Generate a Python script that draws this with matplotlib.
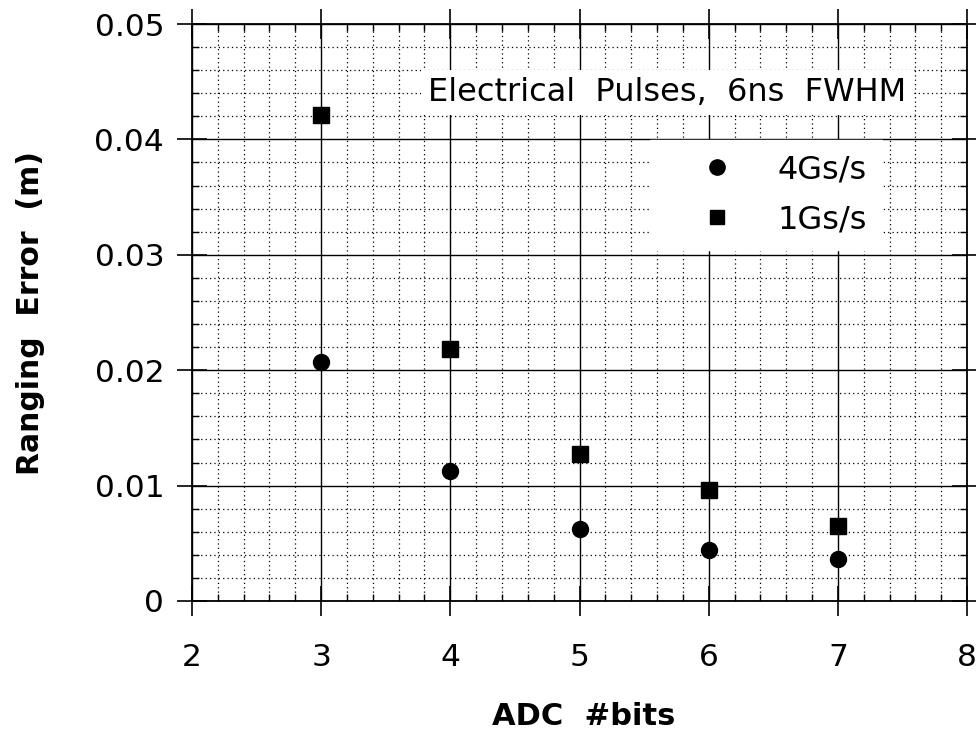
import numpy as np
import matplotlib
matplotlib.use('Agg')
import matplotlib.pyplot as plt
from matplotlib.ticker import MultipleLocator, FuncFormatter
from matplotlib.lines import Line2D

# ADC resolution (bits) and ranging error (m)
bits = [3, 4, 5, 6, 7]
err_4gs = [0.0207, 0.0113, 0.0062, 0.0044, 0.0036]
err_1gs = [0.0421, 0.0218, 0.0127, 0.0096, 0.0065]
labels = ['4Gs/s', '1Gs/s']

plt.rcParams['font.family'] = 'DejaVu Sans'

fig = plt.figure(figsize=(9.76, 7.34), dpi=100)
ax = fig.add_axes([0.1967, 0.1812, 0.7941, 0.7861])

ax.plot(bits, err_4gs, 'o', color='black', markersize=11.5, zorder=5)
ax.plot(bits, err_1gs, 's', color='black', markersize=11.5, zorder=5)

ax.set_xlim(2, 8)
ax.set_ylim(0, 0.05)
ax.xaxis.set_major_locator(MultipleLocator(1))
ax.xaxis.set_minor_locator(MultipleLocator(0.2))
ax.yaxis.set_major_locator(MultipleLocator(0.01))
ax.yaxis.set_minor_locator(MultipleLocator(0.002))
ax.yaxis.set_major_formatter(FuncFormatter(lambda v, p: '0' if abs(v) < 1e-9 else '%.2f' % v))

ax.grid(which='major', color='black', linestyle='-', linewidth=1.0)
ax.grid(which='minor', color='black', linestyle=(0, (1, 2.5)), linewidth=0.9)
ax.set_axisbelow(True)

ax.tick_params(which='major', direction='inout', length=22, width=1.2,
               top=True, right=True, labelsize=22.5, color='black')
ax.tick_params(axis='x', which='major', pad=19)
ax.tick_params(axis='y', which='major', pad=9)
ax.tick_params(which='minor', direction='in', length=5, width=1.0,
               top=True, right=True)
for s in ax.spines.values():
    s.set_linewidth(1.3)

ax.set_xlabel('ADC  #bits', fontsize=22, fontweight='bold')
ax.set_ylabel('Ranging  Error  (m)', fontsize=21.5, fontweight='bold')
ax.xaxis.set_label_coords(0.506, -0.175)
ax.yaxis.set_label_coords(-0.19, 0.5)

ax.text(5.68, 0.0441, 'Electrical  Pulses,  6ns  FWHM', fontsize=23,
        ha='center', va='center', zorder=6,
        bbox=dict(facecolor='white', edgecolor='none', pad=5))

handles = [Line2D([], [], marker='o', linestyle='none', color='black', markersize=11),
           Line2D([], [], marker='s', linestyle='none', color='black', markersize=10)]
leg = ax.legend(handles, labels, loc='upper left', bbox_to_anchor=(0.591, 0.799),
                borderaxespad=0, frameon=True, fancybox=False, fontsize=23,
                handlelength=3.3, handletextpad=0.25, borderpad=0.45,
                labelspacing=0.6)
leg.get_frame().set_edgecolor('white')
leg.get_frame().set_facecolor('white')
leg.get_frame().set_alpha(1)
leg.set_zorder(6)

fig.savefig('out.png', dpi=100)
